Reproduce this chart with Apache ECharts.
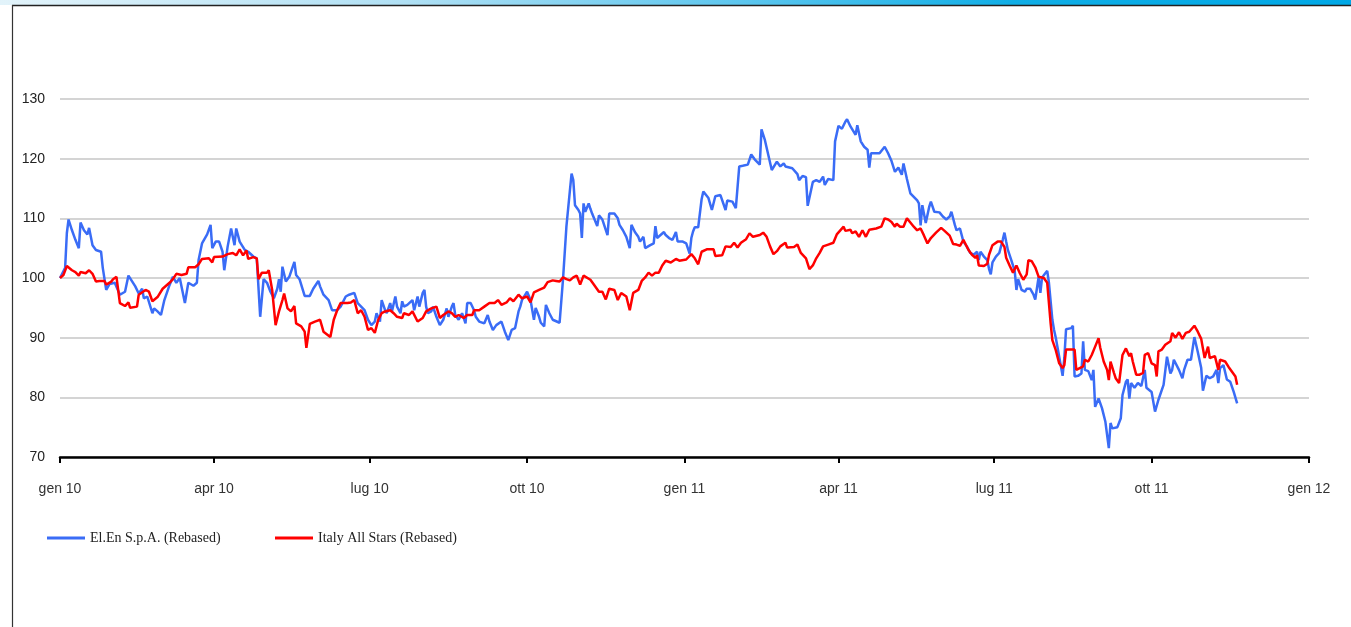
<!DOCTYPE html>
<html>
<head>
<meta charset="utf-8">
<script src="https://cdn.jsdelivr.net/npm/echarts@6/dist/echarts.min.js"></script>
<style>
html,body{margin:0;padding:0;background:#fff;}
#chart{width:1351px;height:627px;}
</style>
</head>
<body>
<div id="chart"></div>
<script>
// Day offsets from 1 Jan 2010 and rebased values
const tickDays = [0, 90, 181, 273, 365, 455, 546, 638, 730];
const tickLabels = ['gen 10', 'apr 10', 'lug 10', 'ott 10', 'gen 11', 'apr 11', 'lug 11', 'ott 11', 'gen 12'];
const seriesNames = ['El.En S.p.A. (Rebased)', 'Italy All Stars (Rebased)'];

const elenDays = [0,3,4,5,7,9,11,12,14,16,17,19,21,24,25,27,29,32,35,38,40,44,46,48,49,51,54,55,57,59,61,64,66,68,70,73,75,78,80,81,83,86,88,89,91,93,95,96,98,100,102,103,105,108,110,113,115,117,119,121,123,125,127,128,129,130,132,134,137,138,140,143,146,148,151,152,154,157,159,162,164,167,169,172,174,176,178,180,182,184,185,187,188,190,191,193,194,196,197,199,200,201,203,204,206,207,209,210,212,213,214,215,217,218,220,222,224,226,227,229,230,231,233,235,237,238,240,242,243,245,248,250,251,253,255,258,260,262,264,266,268,269,270,271,273,275,277,278,280,281,283,284,286,288,289,292,294,296,298,299,300,301,303,304,305,306,307,309,310,311,314,315,317,318,320,321,324,326,327,329,331,333,334,336,338,339,341,342,345,347,348,349,351,353,354,356,358,360,361,362,364,366,368,369,370,371,373,375,376,379,381,383,386,387,389,390,393,395,397,399,402,404,406,409,410,412,413,416,419,421,423,424,428,431,432,434,436,437,440,442,444,446,447,449,452,453,455,457,459,460,462,465,466,468,470,472,473,474,477,479,482,484,486,488,490,492,493,495,497,499,501,502,503,504,506,508,509,511,514,516,518,520,521,523,524,526,528,530,532,534,536,537,538,540,542,543,544,545,547,549,551,552,553,554,556,558,559,560,562,564,565,567,569,570,572,573,574,575,577,578,579,580,581,582,584,586,587,588,591,592,593,595,597,598,599,601,603,604,605,607,609,611,613,614,615,618,620,621,623,624,625,626,628,630,632,634,635,638,640,642,645,647,649,650,651,654,656,657,659,661,663,665,667,668,670,672,674,676,677,678,680,681,682,684,686,688];
const elenVals = [100,101.7,107.5,109.8,108,106.4,105,109.3,108,107.3,108.4,105.5,104.7,104.4,101.7,98,99,99.2,97.2,97.7,100.4,98.6,97.4,98.2,96.6,96.9,94.1,94.9,94.4,93.8,96.3,98.8,100.2,99.2,100,95.8,99.2,98.7,99.2,103,105.8,107.3,108.9,105,106.1,106.1,104.4,101.3,105.3,108.3,105.5,108.3,106.1,104.7,104.4,103.6,103.3,93.5,99.8,99.2,97.7,96.6,98.2,99.8,97.7,101.9,99.4,100.2,102.7,100.5,99.8,97,97,98.2,99.5,98.6,97.2,96.3,94.6,94.6,95.2,96.9,97.2,97.5,95.8,95.2,94.6,93,92.1,92.7,94.1,92.7,96.3,94.6,94.1,95.8,94.4,96.9,95.2,94.1,96.1,95.2,95.5,95.2,96.3,94.6,96.9,95.2,97.5,98,95.2,94.1,94.4,95.2,93.5,92.1,93,94.9,93.5,95.2,95.8,93.8,93,94.1,92.4,95.8,95.8,94.6,93.5,92.7,92.4,93.8,92.7,91.3,92.1,92.7,91,89.6,91.3,91.6,94.4,95.2,96.3,96.6,97.7,96.3,93,95,93.5,92.5,91.9,95.5,94.1,93,93,92.5,99.8,108.7,114.6,117.5,116.4,112.2,111.4,110.8,106.7,112.5,111.1,112.5,111.6,110.8,108.7,110.5,109.8,110,107.2,110.8,110.8,110,108.9,108,106.9,105,108.9,107.7,106.9,106.1,106.9,105,105.5,105.8,108.7,106.7,107.2,107.7,107.2,106.7,106.4,107.7,106.1,106.1,106.1,105.8,104.1,106.7,107.8,108.5,108.5,113.2,114.5,113.4,111.4,113.7,113.9,113.8,111.4,113,112.8,111.7,118.7,118.8,119,120.7,119.9,119,124.9,123.1,123.1,118.1,119.5,118.7,119.2,118.7,118.4,117.4,116.4,117.1,116.9,112.1,116.1,116.4,116.1,117,115.6,116.6,116.4,122.9,125.5,125,126.2,126.6,125.4,124,125.6,122.9,122,121.5,118.5,120.9,120.9,120.9,122,120.9,119.6,117.8,118.5,117.3,119.2,116.6,114.2,113.6,113,112.5,108.8,112.2,109.2,111.9,112.8,111.1,111,110.3,109.8,110.3,111.1,108.9,108,108.3,106.1,105.3,104.2,103.9,104.4,103,104.4,103.6,103,101.5,100.6,102.6,103.6,104.2,106.4,107.6,106.1,104.7,103,101.2,98,99.8,98,97.7,98.2,98.2,97.2,96.4,100.2,97.5,100.1,100.4,101.2,99.2,99,93,91.3,90,86.8,83.6,86.6,91.4,91.6,92,83.5,83.6,84,89.4,84.6,84.4,82.9,84.6,78.4,79.8,78.2,75.9,71.5,75.7,74.8,75,76.5,80.4,82.6,83,79.8,82.4,81.6,82.4,81.9,84.6,81.6,80.9,77.6,79.6,82.1,86.8,84,84.6,86.3,84.6,83.2,84.6,86.3,86.3,90.1,87.6,84.9,81.1,83.6,83.2,83.5,84.6,82.4,84.9,85.4,85.1,83,82.6,80.9,79];

const italyDays = [0,2,4,7,9,11,12,15,17,19,21,23,26,27,30,31,33,35,38,40,41,45,46,50,52,54,57,60,64,66,68,71,74,75,79,81,83,87,89,90,95,98,101,103,105,107,109,110,113,115,116,118,121,122,124,126,128,130,131,133,135,137,138,141,143,144,146,149,152,154,158,160,162,164,168,170,172,174,176,178,180,182,184,186,188,190,193,195,197,200,201,204,206,209,212,214,217,220,222,224,227,229,231,233,236,238,241,242,245,248,251,254,256,258,261,263,265,268,270,273,275,277,280,283,285,288,290,292,294,296,298,300,302,304,306,310,312,315,317,319,321,324,326,328,331,333,335,338,340,342,344,346,348,350,352,354,357,360,362,366,369,371,373,375,378,382,383,387,389,392,394,396,398,401,403,405,409,411,413,415,417,419,421,424,425,429,431,433,436,438,440,442,444,446,449,452,454,455,458,459,462,463,465,467,469,471,473,477,480,482,484,486,488,489,491,493,495,497,499,501,503,505,507,509,512,515,517,520,522,524,526,528,531,533,535,536,537,540,542,543,545,548,550,552,553,555,557,559,561,563,565,566,568,570,572,575,577,578,579,580,582,584,586,587,588,593,594,596,598,599,601,603,605,607,608,610,612,613,614,616,617,619,621,623,625,626,627,629,631,633,634,636,638,640,641,642,644,646,649,650,652,654,656,658,660,663,665,667,669,671,672,675,677,678,681,683,685,687,688];
const italyVals = [100,100.5,102,101.3,101,100.4,101,100.8,101.3,100.7,99.4,99.5,99.5,98.9,99.4,99.8,100.2,95.8,95.3,95.9,95,95.2,97.2,98,97.7,96.1,96.8,98.2,99.2,99.8,100.7,100.5,100.7,101.8,101.8,102.3,103.2,103.3,102.6,103.5,103.6,104,104.2,103.8,104.8,103.8,104.6,103.2,103.5,103.3,99.8,100.9,100.9,101.3,98,92.1,94.4,96.3,97.4,94.9,94.4,95.3,92.4,91.9,91,88.3,92.3,92.7,93,91,90.1,93,94.6,95.8,95.8,95.9,96.3,94.1,94.6,93.5,91.3,91.6,90.8,93,94.1,94.4,94.6,94.1,93.5,93.3,94.1,93.8,94.4,92.7,93.3,94.4,94.9,95.2,93.3,93.8,94.4,94.1,93.5,93.8,93.3,93.8,93.8,94.6,94.6,95.2,95.8,95.8,96.3,95.5,95.9,96.6,96.1,97.2,96.6,96.9,95.9,97.6,98,98.4,99.3,99.6,99.5,99.4,100.1,99.8,99.6,100.1,100.4,98.9,100.4,99.7,98.9,97.7,97.7,96.4,98.2,98,96.3,97.5,96.9,94.6,97.5,98,99.5,100.1,100.9,100.4,100.9,100.9,102.1,102.9,102.6,103.2,102.9,103.1,104,103.3,102.3,104.4,104.8,104.8,103.7,103.8,105.3,105.2,105.9,105.1,105.9,106.5,107.5,106.9,107.2,107.6,106.9,105.3,104,104.5,105.3,105.9,105.1,105.2,105.6,104.2,103.3,101.5,102.1,103.3,104.2,105.3,105.6,105.9,107.3,107.6,108.6,107.9,108.1,107.5,107.8,106.9,108,106.9,108.1,108.3,108.6,110,109.8,109.4,108.6,109.1,108.6,108.6,110,109.3,108.6,108,108.3,107.1,105.8,106.7,107.6,108.4,107.9,107.1,105.7,105.6,105.4,106.4,104.7,103.9,103.4,103.8,102.1,102,102.4,103.9,105.5,106.1,106.1,105.2,103.4,102.1,100.9,102.1,100.8,99.7,100.6,103,102.8,101.8,100.2,100,99.2,95.8,92.4,89.6,87.9,85.7,84.9,85.4,88,88,84.6,84.9,85.2,86.3,86,87.1,88.5,89.9,88.3,86,84.6,82.9,86,84.1,83.2,82.4,87.1,88.2,86.9,87.4,86,83.8,83.8,84.1,87.1,87.4,85.7,85.4,83.5,87.7,88,88.8,89.4,90.8,90,90.9,89.8,90.8,91,92,91,89.8,86.6,88.5,86.6,86.9,84.6,86.3,86,85.1,84.3,83.5,82.1];

const yMin = 70, yMax = 130, yStep = 10;

const chart = echarts.init(document.getElementById('chart'), null, {renderer: 'canvas'});
const zipPairs = (d, v) => d.map((x, i) => [x, v[i]]);
const labelMap = {};
tickDays.forEach((d, i) => { labelMap[d] = tickLabels[i]; });

const legendText = {fontFamily: '"Liberation Serif", "Times New Roman", serif', fontSize: 14, color: '#222'};

chart.setOption({
  animation: false,
  backgroundColor: '#ffffff',
  textStyle: {fontFamily: 'Arial, "Liberation Sans", sans-serif'},
  grid: {left: 60, right: 42, top: 99, bottom: 170, containLabel: false},
  xAxis: {
    type: 'value',
    min: tickDays[0],
    max: tickDays[tickDays.length - 1],
    axisLine: {show: true, lineStyle: {color: '#000', width: 2.5}},
    axisTick: {show: true, length: 6, lineStyle: {color: '#000', width: 2}, customValues: tickDays},
    axisLabel: {
      customValues: tickDays,
      margin: 25,
      fontSize: 14,
      color: '#333',
      formatter: v => labelMap[v] || ''
    },
    splitLine: {show: false}
  },
  yAxis: {
    type: 'value',
    min: yMin, max: yMax, interval: yStep,
    axisLine: {show: false},
    axisTick: {show: false},
    axisLabel: {fontSize: 14, color: '#222', margin: 15},
    splitLine: {show: true, lineStyle: {color: '#c6c6c6', width: 1.5}}
  },
  legend: [
    {data: [seriesNames[0]], left: 47, top: 531, padding: 0, icon: 'rect', itemWidth: 38, itemHeight: 3, itemGap: 2, textStyle: legendText},
    {data: [seriesNames[1]], left: 275, top: 531, padding: 0, icon: 'rect', itemWidth: 38, itemHeight: 3, itemGap: 2, textStyle: legendText}
  ],
  graphic: [
    {type: 'rect', shape: {x: 0, y: 0, width: 1351, height: 5}, silent: true,
     style: {fill: new echarts.graphic.LinearGradient(0, 0, 1, 0, [
       {offset: 0, color: '#e2f3fa'}, {offset: 0.3, color: '#b0e0f4'}, {offset: 0.55, color: '#5cc6ee'}, {offset: 0.75, color: '#10aee6'}, {offset: 1, color: '#00a8e6'}])}},
    {type: 'line', shape: {x1: 12, y1: 5.5, x2: 1351, y2: 5.5}, silent: true, style: {stroke: '#222', lineWidth: 1.5}},
    {type: 'line', shape: {x1: 12.5, y1: 5, x2: 12.5, y2: 627}, silent: true, style: {stroke: '#333', lineWidth: 1.2}}
  ],
  series: [
    {name: seriesNames[0], type: 'line', data: zipPairs(elenDays, elenVals), showSymbol: false,
     lineStyle: {color: '#3a6cf6', width: 2.5}, itemStyle: {color: '#3a6cf6'}, z: 2},
    {name: seriesNames[1], type: 'line', data: zipPairs(italyDays, italyVals), showSymbol: false,
     lineStyle: {color: '#ff0000', width: 2.5}, itemStyle: {color: '#ff0000'}, z: 3}
  ]
});
</script>
</body>
</html>
